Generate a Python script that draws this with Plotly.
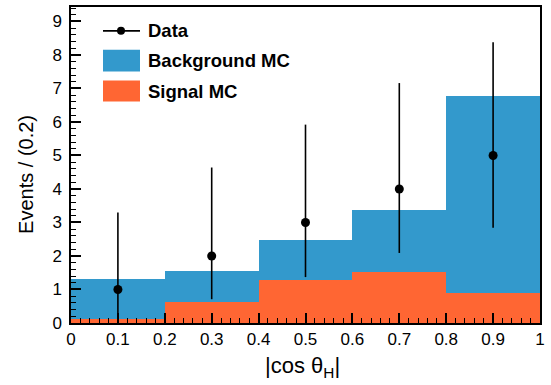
import plotly.graph_objects as go

# Data
bin_centers = [0.1, 0.3, 0.5, 0.7, 0.9]
bin_width = 0.2
signal_mc = [0.12, 0.62, 1.28, 1.53, 0.90]
background_mc = [1.20, 0.93, 1.19, 1.84, 5.87]
data_counts = [1, 2, 3, 4, 5]
err_up = [2.30, 2.64, 2.92, 3.16, 3.38]
err_down = [0.83, 1.29, 1.63, 1.91, 2.16]

x_tick_vals = [0, 0.1, 0.2, 0.3, 0.4, 0.5, 0.6, 0.7, 0.8, 0.9, 1]
x_tick_text = ["0", "0.1", "0.2", "0.3", "0.4", "0.5", "0.6", "0.7", "0.8", "0.9", "1"]
y_tick_vals = [0, 1, 2, 3, 4, 5, 6, 7, 8, 9]

BLUE = "rgb(51,153,204)"
ORANGE = "rgb(255,102,51)"
FONT = "Liberation Sans, Arial, sans-serif"

fig = go.Figure()
fig.add_trace(go.Bar(x=bin_centers, y=signal_mc, width=bin_width, marker=dict(color=ORANGE, line=dict(width=0)),
                     name="Signal MC", showlegend=False))
fig.add_trace(go.Bar(x=bin_centers, y=background_mc, width=bin_width, marker=dict(color=BLUE, line=dict(width=0)),
                     name="Background MC", showlegend=False))
fig.add_trace(go.Scatter(x=bin_centers, y=data_counts, mode="markers",
                         marker=dict(color="black", size=9),
                         error_y=dict(type="data", symmetric=False, array=err_up, arrayminus=err_down,
                                      color="black", thickness=1.6, width=0),
                         name="Data", showlegend=False))

# layout geometry (pixels)
W, H = 551, 385
L, R, T, B = 71, 11, 5, 62
pw, ph = W - L - R, H - T - B

def px(x):
    return (x - L) / pw

def py(y):
    return (H - B - y) / ph

shapes = []
annotations = []
# manual legend
shapes.append(dict(type="line", xref="paper", yref="paper", x0=px(103), x1=px(140), y0=py(29), y1=py(29),
                   line=dict(color="black", width=1.6)))
shapes.append(dict(type="circle", xref="paper", yref="paper", x0=px(117), x1=px(125), y0=py(33), y1=py(25),
                   fillcolor="black", line=dict(color="black", width=0)))
shapes.append(dict(type="rect", xref="paper", yref="paper", x0=px(103), x1=px(140), y0=py(70), y1=py(48),
                   fillcolor=BLUE, line=dict(width=0)))
shapes.append(dict(type="rect", xref="paper", yref="paper", x0=px(103), x1=px(140), y0=py(100), y1=py(79),
                   fillcolor=ORANGE, line=dict(width=0)))
for label, yy in [("Data", 29), ("Background MC", 59), ("Signal MC", 90)]:
    annotations.append(dict(text="<b>%s</b>" % label, xref="paper", yref="paper", x=px(146), y=py(yy),
                            xanchor="left", yanchor="middle", showarrow=False,
                            font=dict(family=FONT, size=18.5, color="black")))

# axis titles
annotations.append(dict(text="Events / (0.2)", xref="paper", yref="paper", x=px(26), y=py(174),
                        xanchor="center", yanchor="middle", textangle=-90, showarrow=False,
                        font=dict(family=FONT, size=20, color="black")))
annotations.append(dict(text="|cos θ<sub>H</sub>|", xref="paper", yref="paper", x=px(302), y=py(367),
                        xanchor="center", yanchor="middle", showarrow=False,
                        font=dict(family=FONT, size=22, color="black")))

fig.update_layout(
    width=W, height=H,
    margin=dict(l=L, r=R, t=T, b=B),
    barmode="stack", bargap=0,
    plot_bgcolor="white", paper_bgcolor="white",
    font=dict(family=FONT, size=17, color="black"),
    shapes=shapes, annotations=annotations,
    showlegend=False,
)
fig.update_xaxes(
    range=[0, 1], tickvals=x_tick_vals, ticktext=x_tick_text,
    ticks="inside", ticklen=10, tickwidth=1.5, tickcolor="black",
    showline=True, linecolor="black", linewidth=1.5, mirror=True,
    showgrid=False, zeroline=False,
    minor=dict(dtick=0.02, ticks="inside", ticklen=5, tickcolor="black", tickwidth=1, showgrid=False),
    tickfont=dict(size=17),
)
fig.update_yaxes(
    range=[0, 9.43], tickvals=y_tick_vals,
    ticks="inside", ticklen=10, tickwidth=1.5, tickcolor="black",
    showline=True, linecolor="black", linewidth=1.5, mirror=True,
    showgrid=False, zeroline=False,
    minor=dict(dtick=0.2, ticks="inside", ticklen=5, tickcolor="black", tickwidth=1, showgrid=False),
    tickfont=dict(size=17), ticklabelstandoff=4,
)

fig.write_html("out.html")
